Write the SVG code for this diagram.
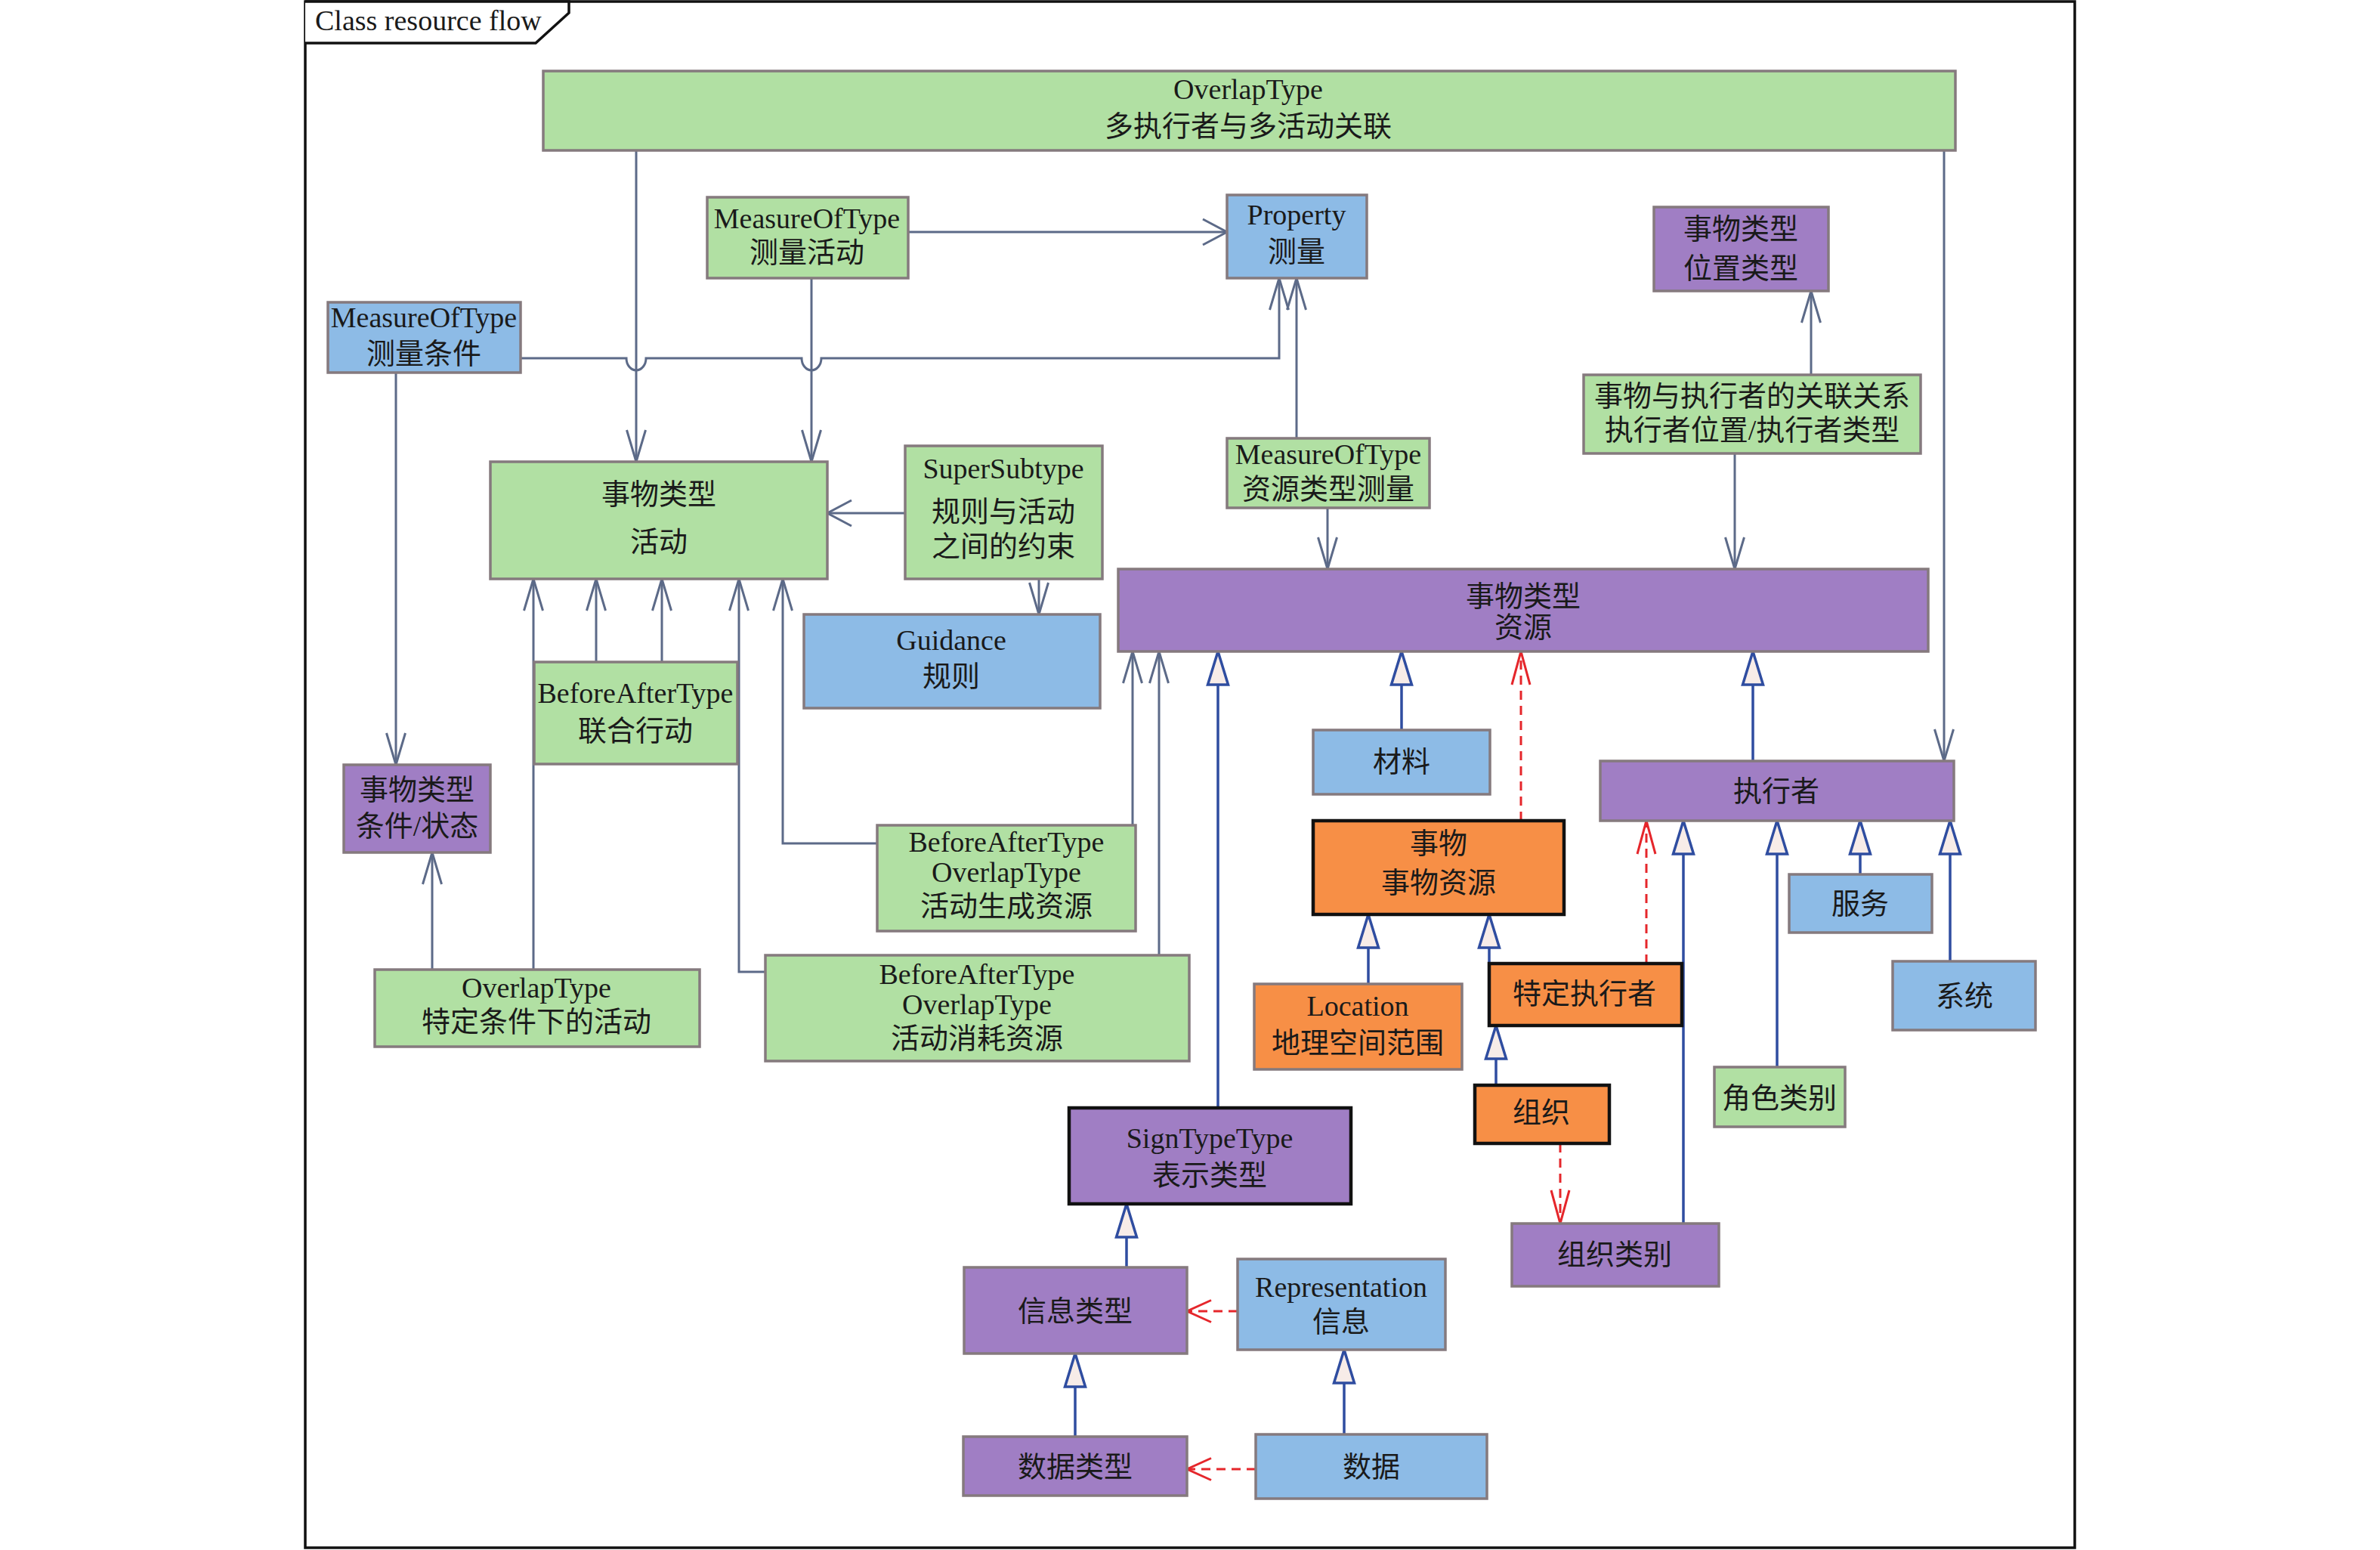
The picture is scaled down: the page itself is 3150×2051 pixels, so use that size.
<svg xmlns="http://www.w3.org/2000/svg" width="3150" height="2051" viewBox="0 0 3150 2051">
<defs>
<style>
.g{fill:#b1e0a3;stroke:#857a7e;stroke-width:3.5}
.b{fill:#8dbbe6;stroke:#857a7e;stroke-width:3.5}
.p{fill:#a07ec4;stroke:#857a7e;stroke-width:3.5}
.o{fill:#f78f46;stroke:#857a7e;stroke-width:3.5}
.pk{fill:#a07ec4;stroke:#111;stroke-width:4.5}
.ok{fill:#f78f46;stroke:#111;stroke-width:4.5}
text{font-family:"Liberation Serif","Noto Sans CJK SC",serif;font-size:38px;fill:#1a1a1a;text-anchor:middle}
.c{fill:none;stroke:#5c6a88;stroke-width:3}
.gen{fill:none;stroke:#2f4da0;stroke-width:3.5}
.dep{fill:none;stroke:#e5262b;stroke-width:3;stroke-dasharray:12 8}
</style>
<marker id="arrV" markerUnits="userSpaceOnUse" markerWidth="50" markerHeight="50" refX="0" refY="0" orient="auto" overflow="visible"><path d="M -42 -12.5 L 0 0 L -42 12.5" fill="none" stroke="#5c6a88" stroke-width="3"/></marker>
<marker id="arrH" markerUnits="userSpaceOnUse" markerWidth="50" markerHeight="50" refX="0" refY="0" orient="auto" overflow="visible"><path d="M -32 -17 L 0 0 L -32 17" fill="none" stroke="#5c6a88" stroke-width="3"/></marker>
<marker id="redV" markerUnits="userSpaceOnUse" markerWidth="50" markerHeight="50" refX="0" refY="0" orient="auto" overflow="visible"><path d="M -44 -12 L 0 0 L -44 12" fill="none" stroke="#e5262b" stroke-width="3"/></marker>
<marker id="redH" markerUnits="userSpaceOnUse" markerWidth="50" markerHeight="50" refX="0" refY="0" orient="auto" overflow="visible"><path d="M -32 -14.5 L 0 0 L -32 14.5" fill="none" stroke="#e5262b" stroke-width="3"/></marker>
<marker id="tri" markerUnits="userSpaceOnUse" markerWidth="60" markerHeight="60" refX="0" refY="0" orient="auto" overflow="visible"><path d="M 0 0 L -44 -13.5 L -44 13.5 Z" fill="#f7ece8" stroke="#2f4da0" stroke-width="3.5"/></marker>
</defs>
<rect x="0" y="0" width="3150" height="2051" fill="#fff"/>
<g id="frame">
<rect x="404" y="2" width="2342" height="2046" fill="none" stroke="#111" stroke-width="3.5"/>
<path d="M 404 2 H 753 V 17 L 709 57 H 404" fill="#fff" stroke="#111" stroke-width="3.5"/>
<text x="417" y="40" style="text-anchor:start">Class resource flow</text>
</g>
<g id="connectors">
<path class="c" d="M 842 199 V 611" marker-end="url(#arrV)"/>
<path class="c" d="M 1074 368 V 611" marker-end="url(#arrV)"/>
<path class="c" d="M 1202 307 H 1624" marker-end="url(#arrH)"/>
<path class="c" d="M 689 474 H 829 a 13 16 0 0 0 26 0 H 1061 a 13 16 0 0 0 26 0 H 1693 V 368" marker-end="url(#arrV)"/>
<path class="c" d="M 524 493 V 1012" marker-end="url(#arrV)"/>
<path class="c" d="M 1716 580 V 368" marker-end="url(#arrV)"/>
<path class="c" d="M 1757 672 V 753" marker-end="url(#arrV)"/>
<path class="c" d="M 2397 496 V 385" marker-end="url(#arrV)"/>
<path class="c" d="M 2296 600 V 753" marker-end="url(#arrV)"/>
<path class="c" d="M 2573 199 V 1007" marker-end="url(#arrV)"/>
<path class="c" d="M 1198 679 H 1095" marker-end="url(#arrH)"/>
<path class="c" d="M 1375 766 V 813" marker-end="url(#arrV)"/>
<path class="c" d="M 706 1283 V 766" marker-end="url(#arrV)"/>
<path class="c" d="M 789 876 V 766" marker-end="url(#arrV)"/>
<path class="c" d="M 876 876 V 766" marker-end="url(#arrV)"/>
<path class="c" d="M 1161 1116 H 1036 V 766" marker-end="url(#arrV)"/>
<path class="c" d="M 1013 1286 H 978 V 766" marker-end="url(#arrV)"/>
<path class="c" d="M 572 1283 V 1128" marker-end="url(#arrV)"/>
<path class="c" d="M 1499 1092 V 862" marker-end="url(#arrV)"/>
<path class="c" d="M 1534 1264 V 862" marker-end="url(#arrV)"/>
<path class="gen" d="M 1612 1466 V 862" marker-end="url(#tri)"/>
<path class="gen" d="M 1855 966 V 862" marker-end="url(#tri)"/>
<path class="gen" d="M 2320 1007 V 862" marker-end="url(#tri)"/>
<path class="gen" d="M 1811 1302 V 1210" marker-end="url(#tri)"/>
<path class="gen" d="M 1971 1275 V 1210" marker-end="url(#tri)"/>
<path class="gen" d="M 1980 1436 V 1357" marker-end="url(#tri)"/>
<path class="gen" d="M 2228 1619 V 1086" marker-end="url(#tri)"/>
<path class="gen" d="M 2352 1412 V 1086" marker-end="url(#tri)"/>
<path class="gen" d="M 2462 1157 V 1086" marker-end="url(#tri)"/>
<path class="gen" d="M 2581 1272 V 1086" marker-end="url(#tri)"/>
<path class="gen" d="M 1491 1677 V 1593" marker-end="url(#tri)"/>
<path class="gen" d="M 1423 1901 V 1791" marker-end="url(#tri)"/>
<path class="gen" d="M 1779 1898 V 1786" marker-end="url(#tri)"/>
<path class="dep" d="M 2013 1086 V 862" marker-end="url(#redV)"/>
<path class="dep" d="M 2179 1275 V 1086" marker-end="url(#redV)"/>
<path class="dep" d="M 2065 1513 V 1619" marker-end="url(#redV)"/>
<path class="dep" d="M 1638 1735 H 1571" marker-end="url(#redH)"/>
<path class="dep" d="M 1662 1944 H 1571" marker-end="url(#redH)"/>
</g>
<g id="n_overlap"><rect class="g" x="719" y="94" width="1869" height="105"/><text x="1652" y="131">OverlapType</text><text x="1652" y="180">多执行者与多活动关联</text></g>
<g id="n_measAct"><rect class="g" x="936" y="261" width="266" height="107"/><text x="1068" y="302">MeasureOfType</text><text x="1068" y="347">测量活动</text></g>
<g id="n_property"><rect class="b" x="1624" y="258" width="185" height="110"/><text x="1716" y="297">Property</text><text x="1716" y="346">测量</text></g>
<g id="n_posType"><rect class="p" x="2189" y="274" width="231" height="111"/><text x="2304" y="316">事物类型</text><text x="2304" y="368">位置类型</text></g>
<g id="n_measCond"><rect class="b" x="434" y="400" width="255" height="93"/><text x="561" y="433">MeasureOfType</text><text x="561" y="481">测量条件</text></g>
<g id="n_assoc"><rect class="g" x="2096" y="496" width="446" height="104"/><text x="2319" y="537">事物与执行者的关联关系</text><text x="2319" y="582">执行者位置/执行者类型</text></g>
<g id="n_measRes"><rect class="g" x="1624" y="580" width="268" height="92"/><text x="1758" y="614">MeasureOfType</text><text x="1758" y="660">资源类型测量</text></g>
<g id="n_activity"><rect class="g" x="649" y="611" width="446" height="155"/><text x="872" y="667">事物类型</text><text x="872" y="730">活动</text></g>
<g id="n_super"><rect class="g" x="1198" y="590" width="261" height="176"/><text x="1328" y="633">SuperSubtype</text><text x="1328" y="690">规则与活动</text><text x="1328" y="736">之间的约束</text></g>
<g id="n_resource"><rect class="p" x="1480" y="753" width="1072" height="109"/><text x="2016" y="802">事物类型</text><text x="2016" y="843">资源</text></g>
<g id="n_guidance"><rect class="b" x="1064" y="813" width="392" height="124"/><text x="1259" y="860">Guidance</text><text x="1259" y="908">规则</text></g>
<g id="n_joint"><rect class="g" x="707" y="876" width="269" height="135"/><text x="841" y="930">BeforeAfterType</text><text x="841" y="980">联合行动</text></g>
<g id="n_material"><rect class="b" x="1738" y="966" width="234" height="85"/><text x="1855" y="1021">材料</text></g>
<g id="n_performer"><rect class="p" x="2118" y="1007" width="468" height="79"/><text x="2351" y="1060">执行者</text></g>
<g id="n_cond"><rect class="p" x="455" y="1012" width="194" height="116"/><text x="552" y="1058">事物类型</text><text x="552" y="1106">条件/状态</text></g>
<g id="n_thing"><rect class="ok" x="1738" y="1086" width="332" height="124"/><text x="1904" y="1129">事物</text><text x="1904" y="1181">事物资源</text></g>
<g id="n_produce"><rect class="g" x="1161" y="1092" width="342" height="140"/><text x="1332" y="1127">BeforeAfterType</text><text x="1332" y="1167">OverlapType</text><text x="1332" y="1212">活动生成资源</text></g>
<g id="n_service"><rect class="b" x="2368" y="1157" width="189" height="77"/><text x="2462" y="1209">服务</text></g>
<g id="n_specCond"><rect class="g" x="496" y="1283" width="430" height="102"/><text x="710" y="1320">OverlapType</text><text x="710" y="1365">特定条件下的活动</text></g>
<g id="n_consume"><rect class="g" x="1013" y="1264" width="561" height="140"/><text x="1293" y="1302">BeforeAfterType</text><text x="1293" y="1342">OverlapType</text><text x="1293" y="1387">活动消耗资源</text></g>
<g id="n_location"><rect class="o" x="1660" y="1302" width="275" height="113"/><text x="1797" y="1344">Location</text><text x="1797" y="1393">地理空间范围</text></g>
<g id="n_specPerf"><rect class="ok" x="1971" y="1275" width="255" height="82"/><text x="2097" y="1328">特定执行者</text></g>
<g id="n_system"><rect class="b" x="2505" y="1272" width="189" height="91"/><text x="2600" y="1331">系统</text></g>
<g id="n_role"><rect class="g" x="2269" y="1412" width="173" height="79"/><text x="2355" y="1466">角色类别</text></g>
<g id="n_org"><rect class="ok" x="1952" y="1436" width="178" height="77"/><text x="2040" y="1485">组织</text></g>
<g id="n_sign"><rect class="pk" x="1415" y="1466" width="373" height="127"/><text x="1601" y="1519">SignTypeType</text><text x="1601" y="1568">表示类型</text></g>
<g id="n_orgType"><rect class="p" x="2001" y="1619" width="274" height="83"/><text x="2137" y="1673">组织类别</text></g>
<g id="n_infoType"><rect class="p" x="1276" y="1677" width="295" height="114"/><text x="1423" y="1748">信息类型</text></g>
<g id="n_repr"><rect class="b" x="1638" y="1666" width="275" height="120"/><text x="1775" y="1716">Representation</text><text x="1775" y="1762">信息</text></g>
<g id="n_dataType"><rect class="p" x="1275" y="1901" width="296" height="78"/><text x="1423" y="1954">数据类型</text></g>
<g id="n_data"><rect class="b" x="1662" y="1898" width="306" height="85"/><text x="1815" y="1954">数据</text></g>
</svg>
